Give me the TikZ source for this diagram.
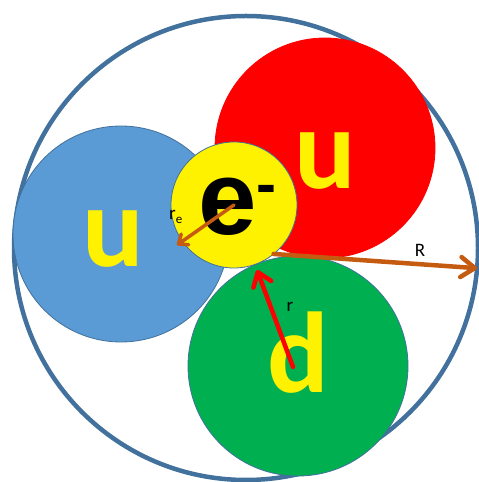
\documentclass[tikz,border=0pt]{standalone}
\usepackage{fontspec}
\setmainfont{Carlito}
\newfontfamily\efont{Liberation Sans}
\usetikzlibrary{arrows.meta}
\definecolor{ringblue}{HTML}{41719C}
\definecolor{ublue}{HTML}{5B9BD5}
\definecolor{dgreen}{HTML}{00B050}
\definecolor{rust}{HTML}{C55A11}
\begin{document}
\begin{tikzpicture}[x=1pt,y=1pt,
  ball/.style={circle, inner sep=0pt, outer sep=0pt, draw=ringblue, line width=0.8pt},
  quark/.style={font=\fontsize{115}{115}\selectfont\bfseries, text=yellow, inner sep=0pt},
  arrR/.style={draw=rust, line width=4.5pt, line cap=round,
    -{Straight Barb[length=14pt,width=20pt,line cap=round,line join=round]}},
  arre/.style={draw=rust, line width=3.5pt, line cap=round,
    -{Straight Barb[length=8pt,width=13pt,line cap=round,line join=round]}},
  arrr/.style={draw=red, line width=4.5pt, line cap=round,
    -{Straight Barb[length=13pt,width=19pt,line cap=round,line join=round]}},
  lbl/.style={font=\fontsize{19}{19}\selectfont, inner sep=0pt}]
\useasboundingbox (0,0) rectangle (479,482);
\node[circle, inner sep=0pt, outer sep=0pt, draw=ringblue, line width=4.5pt, minimum size=464pt] (outer) at (246,234) {};
\node[ball, fill=ublue, minimum size=216pt] (ul) at (121,248) {};
\node[ball, fill=red, draw=red, minimum size=220pt] (ur) at (325,334) {};
\node[ball, fill=dgreen, minimum size=220pt] (dd) at (298,116) {};
\node[ball, fill=yellow, minimum size=126pt] (yel) at (234,277) {};
\node[quark] (tul) at (113,243) {u};
\node[quark] (tur) at (325,321) {u};
\node[quark] (tdd) at (298,129) {d};
\node[anchor=base west, inner sep=0pt, font=\efont\bfseries\fontsize{105}{105}\selectfont] (te) at (198,247)
  {e\raisebox{30pt}{\fontsize{60}{60}\selectfont -}};
\coordinate (reend) at (177,237);
\coordinate (rstart) at (293,115);
\coordinate (rend) at (257,212);
\draw[arrR] (yel.-51) -- (outer.-5);
\draw[arre] (yel.center) -- (reend);
\draw[arrr] (rstart) -- (rend);
\node[lbl] (lR) at (420,232) {R};
\node[lbl] (lr) at (290,175) {r};
\node[lbl, anchor=base west] (lre) at (169,262) {r\raisebox{-4pt}{\fontsize{13}{13}\selectfont e}};
\end{tikzpicture}
\end{document}
